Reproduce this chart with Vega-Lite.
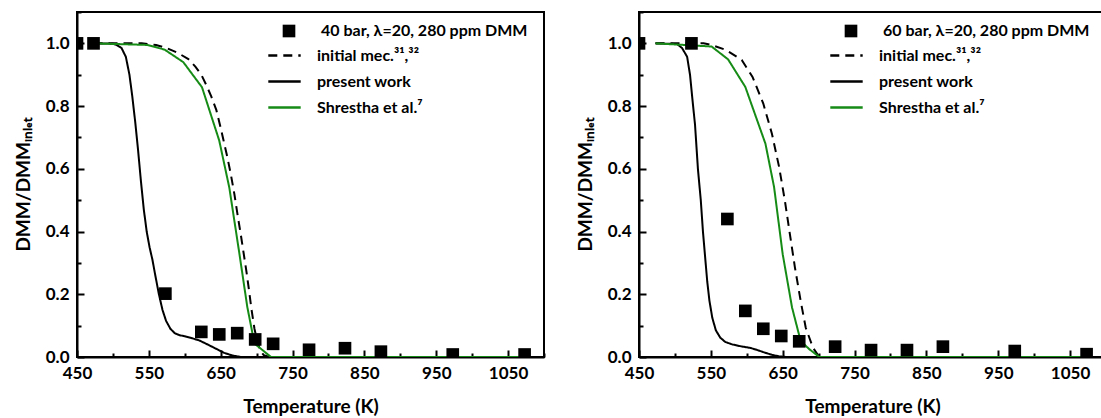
{
  "$schema": "https://vega.github.io/schema/vega-lite/v6.json",
  "padding": {"left": 13, "top": 2, "right": 0, "bottom": 0},
  "autosize": {"type": "pad"},
  "bounds": "flush",
  "spacing": 95,
  "config": {
    "view": {"stroke": "black", "strokeWidth": 2},
    "axis": {
      "grid": false,
      "domainColor": "black", "domainWidth": 2,
      "tickColor": "black", "tickWidth": 2,
      "labelFont": "Lato", "labelFontSize": 17, "labelFontWeight": "bold", "labelColor": "black",
      "titleFont": "Lato", "titleFontSize": 19, "titleFontWeight": "bold", "titleColor": "black"
    },
    "axisX": {
      "values": [450, 500, 550, 600, 650, 700, 750, 800, 850, 900, 950, 1000, 1050],
      "labelExpr": "datum.value % 100 === 50 ? datum.label : ''",
      "tickSize": {"condition": {"test": "datum.value % 100 === 50", "value": -7}, "value": -4},
      "format": "d", "labelPadding": 15, "labelFlush": false, "labelOverlap": false, "titlePadding": 13
    },
    "axisY": {
      "values": [0, 0.1, 0.2, 0.3, 0.4, 0.5, 0.6, 0.7, 0.8, 0.9, 1.0],
      "labelExpr": "round(datum.value * 10) % 2 === 0 ? datum.label : ''",
      "tickSize": {"condition": {"test": "round(datum.value * 10) % 2 === 0", "value": -7}, "value": -4},
      "format": ".1f", "labelPadding": 15, "labelFlush": false, "labelOverlap": false, "titlePadding": 12
    },
    "legend": {"labelFont": "Lato", "labelFontSize": 16, "labelFontWeight": "bold", "labelColor": "black", "labelLimit": 400}
  },
  "datasets": {
    "c40": [
      {"T":473,"v":1.0,"s":"initial mec.³¹,³²"},{"T":540,"v":1.0,"s":"initial mec.³¹,³²"},{"T":560,"v":0.995,"s":"initial mec.³¹,³²"},{"T":575,"v":0.985,"s":"initial mec.³¹,³²"},{"T":590,"v":0.97,"s":"initial mec.³¹,³²"},{"T":605,"v":0.95,"s":"initial mec.³¹,³²"},{"T":615,"v":0.925,"s":"initial mec.³¹,³²"},{"T":623,"v":0.9,"s":"initial mec.³¹,³²"},{"T":630,"v":0.867,"s":"initial mec.³¹,³²"},{"T":637,"v":0.83,"s":"initial mec.³¹,³²"},{"T":644,"v":0.787,"s":"initial mec.³¹,³²"},{"T":649,"v":0.74,"s":"initial mec.³¹,³²"},{"T":654,"v":0.69,"s":"initial mec.³¹,³²"},{"T":659,"v":0.64,"s":"initial mec.³¹,³²"},{"T":664,"v":0.584,"s":"initial mec.³¹,³²"},{"T":669,"v":0.52,"s":"initial mec.³¹,³²"},{"T":674,"v":0.446,"s":"initial mec.³¹,³²"},{"T":678,"v":0.39,"s":"initial mec.³¹,³²"},{"T":682,"v":0.33,"s":"initial mec.³¹,³²"},{"T":686,"v":0.27,"s":"initial mec.³¹,³²"},{"T":689,"v":0.22,"s":"initial mec.³¹,³²"},{"T":693,"v":0.15,"s":"initial mec.³¹,³²"},{"T":697,"v":0.09,"s":"initial mec.³¹,³²"},{"T":701,"v":0.05,"s":"initial mec.³¹,³²"},{"T":705,"v":0.02,"s":"initial mec.³¹,³²"},{"T":710,"v":0.006,"s":"initial mec.³¹,³²"},{"T":718,"v":0,"s":"initial mec.³¹,³²"},{"T":1073,"v":0,"s":"initial mec.³¹,³²"},
      {"T":473,"v":1.0,"s":"present work"},{"T":500,"v":0.999,"s":"present work"},{"T":505,"v":0.995,"s":"present work"},{"T":512,"v":0.985,"s":"present work"},{"T":518,"v":0.957,"s":"present work"},{"T":523,"v":0.9,"s":"present work"},{"T":527,"v":0.83,"s":"present work"},{"T":531,"v":0.75,"s":"present work"},{"T":535,"v":0.66,"s":"present work"},{"T":539,"v":0.56,"s":"present work"},{"T":543,"v":0.47,"s":"present work"},{"T":547,"v":0.4,"s":"present work"},{"T":551,"v":0.35,"s":"present work"},{"T":555,"v":0.31,"s":"present work"},{"T":559,"v":0.26,"s":"present work"},{"T":564,"v":0.2,"s":"present work"},{"T":569,"v":0.15,"s":"present work"},{"T":574,"v":0.115,"s":"present work"},{"T":580,"v":0.09,"s":"present work"},{"T":586,"v":0.076,"s":"present work"},{"T":592,"v":0.07,"s":"present work"},{"T":600,"v":0.066,"s":"present work"},{"T":610,"v":0.06,"s":"present work"},{"T":620,"v":0.053,"s":"present work"},{"T":630,"v":0.042,"s":"present work"},{"T":643,"v":0.027,"s":"present work"},{"T":655,"v":0.013,"s":"present work"},{"T":666,"v":0.005,"s":"present work"},{"T":678,"v":0,"s":"present work"},{"T":1073,"v":0,"s":"present work"},
      {"T":473,"v":1.0,"s":"Shrestha et al.⁷"},{"T":548,"v":0.995,"s":"Shrestha et al.⁷"},{"T":572,"v":0.98,"s":"Shrestha et al.⁷"},{"T":598,"v":0.94,"s":"Shrestha et al.⁷"},{"T":624,"v":0.86,"s":"Shrestha et al.⁷"},{"T":648,"v":0.69,"s":"Shrestha et al.⁷"},{"T":662,"v":0.54,"s":"Shrestha et al.⁷"},{"T":676,"v":0.33,"s":"Shrestha et al.⁷"},{"T":687,"v":0.16,"s":"Shrestha et al.⁷"},{"T":697,"v":0.043,"s":"Shrestha et al.⁷"},{"T":720,"v":0,"s":"Shrestha et al.⁷"},{"T":1073,"v":0,"s":"Shrestha et al.⁷"}
    ],
    "e40": [
      {"T":450,"v":1.0,"s":"40 bar, λ=20, 280 ppm DMM"},{"T":473,"v":1.0,"s":"40 bar, λ=20, 280 ppm DMM"},{"T":573,"v":0.202,"s":"40 bar, λ=20, 280 ppm DMM"},{"T":623,"v":0.08,"s":"40 bar, λ=20, 280 ppm DMM"},{"T":648,"v":0.072,"s":"40 bar, λ=20, 280 ppm DMM"},{"T":673,"v":0.076,"s":"40 bar, λ=20, 280 ppm DMM"},{"T":698,"v":0.056,"s":"40 bar, λ=20, 280 ppm DMM"},{"T":723,"v":0.042,"s":"40 bar, λ=20, 280 ppm DMM"},{"T":773,"v":0.023,"s":"40 bar, λ=20, 280 ppm DMM"},{"T":823,"v":0.028,"s":"40 bar, λ=20, 280 ppm DMM"},{"T":873,"v":0.017,"s":"40 bar, λ=20, 280 ppm DMM"},{"T":973,"v":0.008,"s":"40 bar, λ=20, 280 ppm DMM"},{"T":1073,"v":0.008,"s":"40 bar, λ=20, 280 ppm DMM"}
    ],
    "c60": [
      {"T":473,"v":1.0,"s":"initial mec.³¹,³²"},{"T":540,"v":1.0,"s":"initial mec.³¹,³²"},{"T":551,"v":0.995,"s":"initial mec.³¹,³²"},{"T":571,"v":0.979,"s":"initial mec.³¹,³²"},{"T":593,"v":0.947,"s":"initial mec.³¹,³²"},{"T":608,"v":0.893,"s":"initial mec.³¹,³²"},{"T":623,"v":0.808,"s":"initial mec.³¹,³²"},{"T":635,"v":0.712,"s":"initial mec.³¹,³²"},{"T":645,"v":0.606,"s":"initial mec.³¹,³²"},{"T":653,"v":0.499,"s":"initial mec.³¹,³²"},{"T":660,"v":0.392,"s":"initial mec.³¹,³²"},{"T":667,"v":0.286,"s":"initial mec.³¹,³²"},{"T":675,"v":0.179,"s":"initial mec.³¹,³²"},{"T":682,"v":0.094,"s":"initial mec.³¹,³²"},{"T":692,"v":0.03,"s":"initial mec.³¹,³²"},{"T":700,"v":0.003,"s":"initial mec.³¹,³²"},{"T":710,"v":0,"s":"initial mec.³¹,³²"},{"T":1073,"v":0,"s":"initial mec.³¹,³²"},
      {"T":473,"v":1.0,"s":"present work"},{"T":503,"v":0.998,"s":"present work"},{"T":510,"v":0.985,"s":"present work"},{"T":517,"v":0.957,"s":"present work"},{"T":521,"v":0.9,"s":"present work"},{"T":524,"v":0.83,"s":"present work"},{"T":528,"v":0.74,"s":"present work"},{"T":532,"v":0.6,"s":"present work"},{"T":536,"v":0.5,"s":"present work"},{"T":539,"v":0.4,"s":"present work"},{"T":542,"v":0.32,"s":"present work"},{"T":545,"v":0.24,"s":"present work"},{"T":548,"v":0.18,"s":"present work"},{"T":552,"v":0.125,"s":"present work"},{"T":557,"v":0.085,"s":"present work"},{"T":563,"v":0.062,"s":"present work"},{"T":570,"v":0.048,"s":"present work"},{"T":580,"v":0.04,"s":"present work"},{"T":592,"v":0.034,"s":"present work"},{"T":605,"v":0.029,"s":"present work"},{"T":615,"v":0.022,"s":"present work"},{"T":625,"v":0.014,"s":"present work"},{"T":635,"v":0.007,"s":"present work"},{"T":645,"v":0.002,"s":"present work"},{"T":655,"v":0,"s":"present work"},{"T":1073,"v":0,"s":"present work"},
      {"T":473,"v":1.0,"s":"Shrestha et al.⁷"},{"T":551,"v":0.99,"s":"Shrestha et al.⁷"},{"T":574,"v":0.949,"s":"Shrestha et al.⁷"},{"T":598,"v":0.861,"s":"Shrestha et al.⁷"},{"T":626,"v":0.68,"s":"Shrestha et al.⁷"},{"T":638,"v":0.542,"s":"Shrestha et al.⁷"},{"T":650,"v":0.328,"s":"Shrestha et al.⁷"},{"T":663,"v":0.158,"s":"Shrestha et al.⁷"},{"T":675,"v":0.051,"s":"Shrestha et al.⁷"},{"T":687,"v":0.025,"s":"Shrestha et al.⁷"},{"T":701,"v":0,"s":"Shrestha et al.⁷"},{"T":1073,"v":0,"s":"Shrestha et al.⁷"}
    ],
    "e60": [
      {"T":450,"v":1.0,"s":"60 bar, λ=20, 280 ppm DMM"},{"T":523,"v":1.0,"s":"60 bar, λ=20, 280 ppm DMM"},{"T":573,"v":0.44,"s":"60 bar, λ=20, 280 ppm DMM"},{"T":598,"v":0.147,"s":"60 bar, λ=20, 280 ppm DMM"},{"T":623,"v":0.09,"s":"60 bar, λ=20, 280 ppm DMM"},{"T":648,"v":0.067,"s":"60 bar, λ=20, 280 ppm DMM"},{"T":673,"v":0.05,"s":"60 bar, λ=20, 280 ppm DMM"},{"T":723,"v":0.033,"s":"60 bar, λ=20, 280 ppm DMM"},{"T":773,"v":0.022,"s":"60 bar, λ=20, 280 ppm DMM"},{"T":823,"v":0.022,"s":"60 bar, λ=20, 280 ppm DMM"},{"T":873,"v":0.033,"s":"60 bar, λ=20, 280 ppm DMM"},{"T":973,"v":0.019,"s":"60 bar, λ=20, 280 ppm DMM"},{"T":1073,"v":0.009,"s":"60 bar, λ=20, 280 ppm DMM"}
    ]
  },
  "resolve": {
    "scale": {"color": "independent", "strokeDash": "independent", "shape": "independent", "x": "independent", "y": "independent"},
    "legend": {"color": "independent", "strokeDash": "independent", "shape": "independent"}
  },
  "hconcat": [
    {
      "width": 467, "height": 345,
      "layer": [
        {
          "data": {"name": "c40"},
          "mark": {"type": "line", "strokeWidth": 2, "clip": true},
          "encoding": {
            "x": {"field": "T", "type": "quantitative", "scale": {"domain": [450, 1100], "nice": false, "zero": false}, "axis": {"title": "Temperature (K)"}},
            "y": {"field": "v", "type": "quantitative", "scale": {"domain": [0, 1.1], "nice": false}, "axis": {"title": "DMM/DMMᵢₙₗₑₜ"}},
            "color": {"field": "s", "type": "nominal",
                      "scale": {"domain": ["initial mec.³¹,³²", "present work", "Shrestha et al.⁷"], "range": ["black", "black", "#168c16"]},
                      "legend": {"title": null, "orient": "none", "legendX": 190, "legendY": 26, "symbolType": "stroke", "symbolSize": 1050, "symbolStrokeWidth": 2.5, "labelOffset": 15, "rowPadding": 0}},
            "strokeDash": {"field": "s", "type": "nominal",
                           "scale": {"domain": ["initial mec.³¹,³²", "present work", "Shrestha et al.⁷"], "range": [[9, 6], [1, 0], [1, 0]]},
                           "legend": {"title": null, "orient": "none", "legendX": 190, "legendY": 26, "symbolType": "stroke", "symbolSize": 1050, "symbolStrokeWidth": 2.5, "labelOffset": 15, "rowPadding": 0}}
          }
        },
        {
          "data": {"name": "e40"},
          "mark": {"type": "point", "filled": true, "size": 160, "opacity": 1, "color": "black", "clip": true},
          "encoding": {
            "x": {"field": "T", "type": "quantitative"},
            "y": {"field": "v", "type": "quantitative"},
            "shape": {"field": "s", "type": "nominal", "scale": {"domain": ["40 bar, λ=20, 280 ppm DMM"], "range": ["square"]},
                      "legend": {"title": null, "orient": "none", "legendX": 204, "legendY": 11, "symbolSize": 160, "symbolFillColor": "black", "symbolStrokeColor": "black", "symbolStrokeWidth": 0, "labelOffset": 24}}
          }
        }
      ]
    },
    {
      "width": 467, "height": 345,
      "layer": [
        {
          "data": {"name": "c60"},
          "mark": {"type": "line", "strokeWidth": 2, "clip": true},
          "encoding": {
            "x": {"field": "T", "type": "quantitative", "scale": {"domain": [450, 1100], "nice": false, "zero": false}, "axis": {"title": "Temperature (K)"}},
            "y": {"field": "v", "type": "quantitative", "scale": {"domain": [0, 1.1], "nice": false}, "axis": {"title": "DMM/DMMᵢₙₗₑₜ"}},
            "color": {"field": "s", "type": "nominal",
                      "scale": {"domain": ["initial mec.³¹,³²", "present work", "Shrestha et al.⁷"], "range": ["black", "black", "#168c16"]},
                      "legend": {"title": null, "orient": "none", "legendX": 190, "legendY": 26, "symbolType": "stroke", "symbolSize": 1050, "symbolStrokeWidth": 2.5, "labelOffset": 15, "rowPadding": 0}},
            "strokeDash": {"field": "s", "type": "nominal",
                           "scale": {"domain": ["initial mec.³¹,³²", "present work", "Shrestha et al.⁷"], "range": [[9, 6], [1, 0], [1, 0]]},
                           "legend": {"title": null, "orient": "none", "legendX": 190, "legendY": 26, "symbolType": "stroke", "symbolSize": 1050, "symbolStrokeWidth": 2.5, "labelOffset": 15, "rowPadding": 0}}
          }
        },
        {
          "data": {"name": "e60"},
          "mark": {"type": "point", "filled": true, "size": 160, "opacity": 1, "color": "black", "clip": true},
          "encoding": {
            "x": {"field": "T", "type": "quantitative"},
            "y": {"field": "v", "type": "quantitative"},
            "shape": {"field": "s", "type": "nominal", "scale": {"domain": ["60 bar, λ=20, 280 ppm DMM"], "range": ["square"]},
                      "legend": {"title": null, "orient": "none", "legendX": 204, "legendY": 11, "symbolSize": 160, "symbolFillColor": "black", "symbolStrokeColor": "black", "symbolStrokeWidth": 0, "labelOffset": 24}}
          }
        }
      ]
    }
  ]
}
